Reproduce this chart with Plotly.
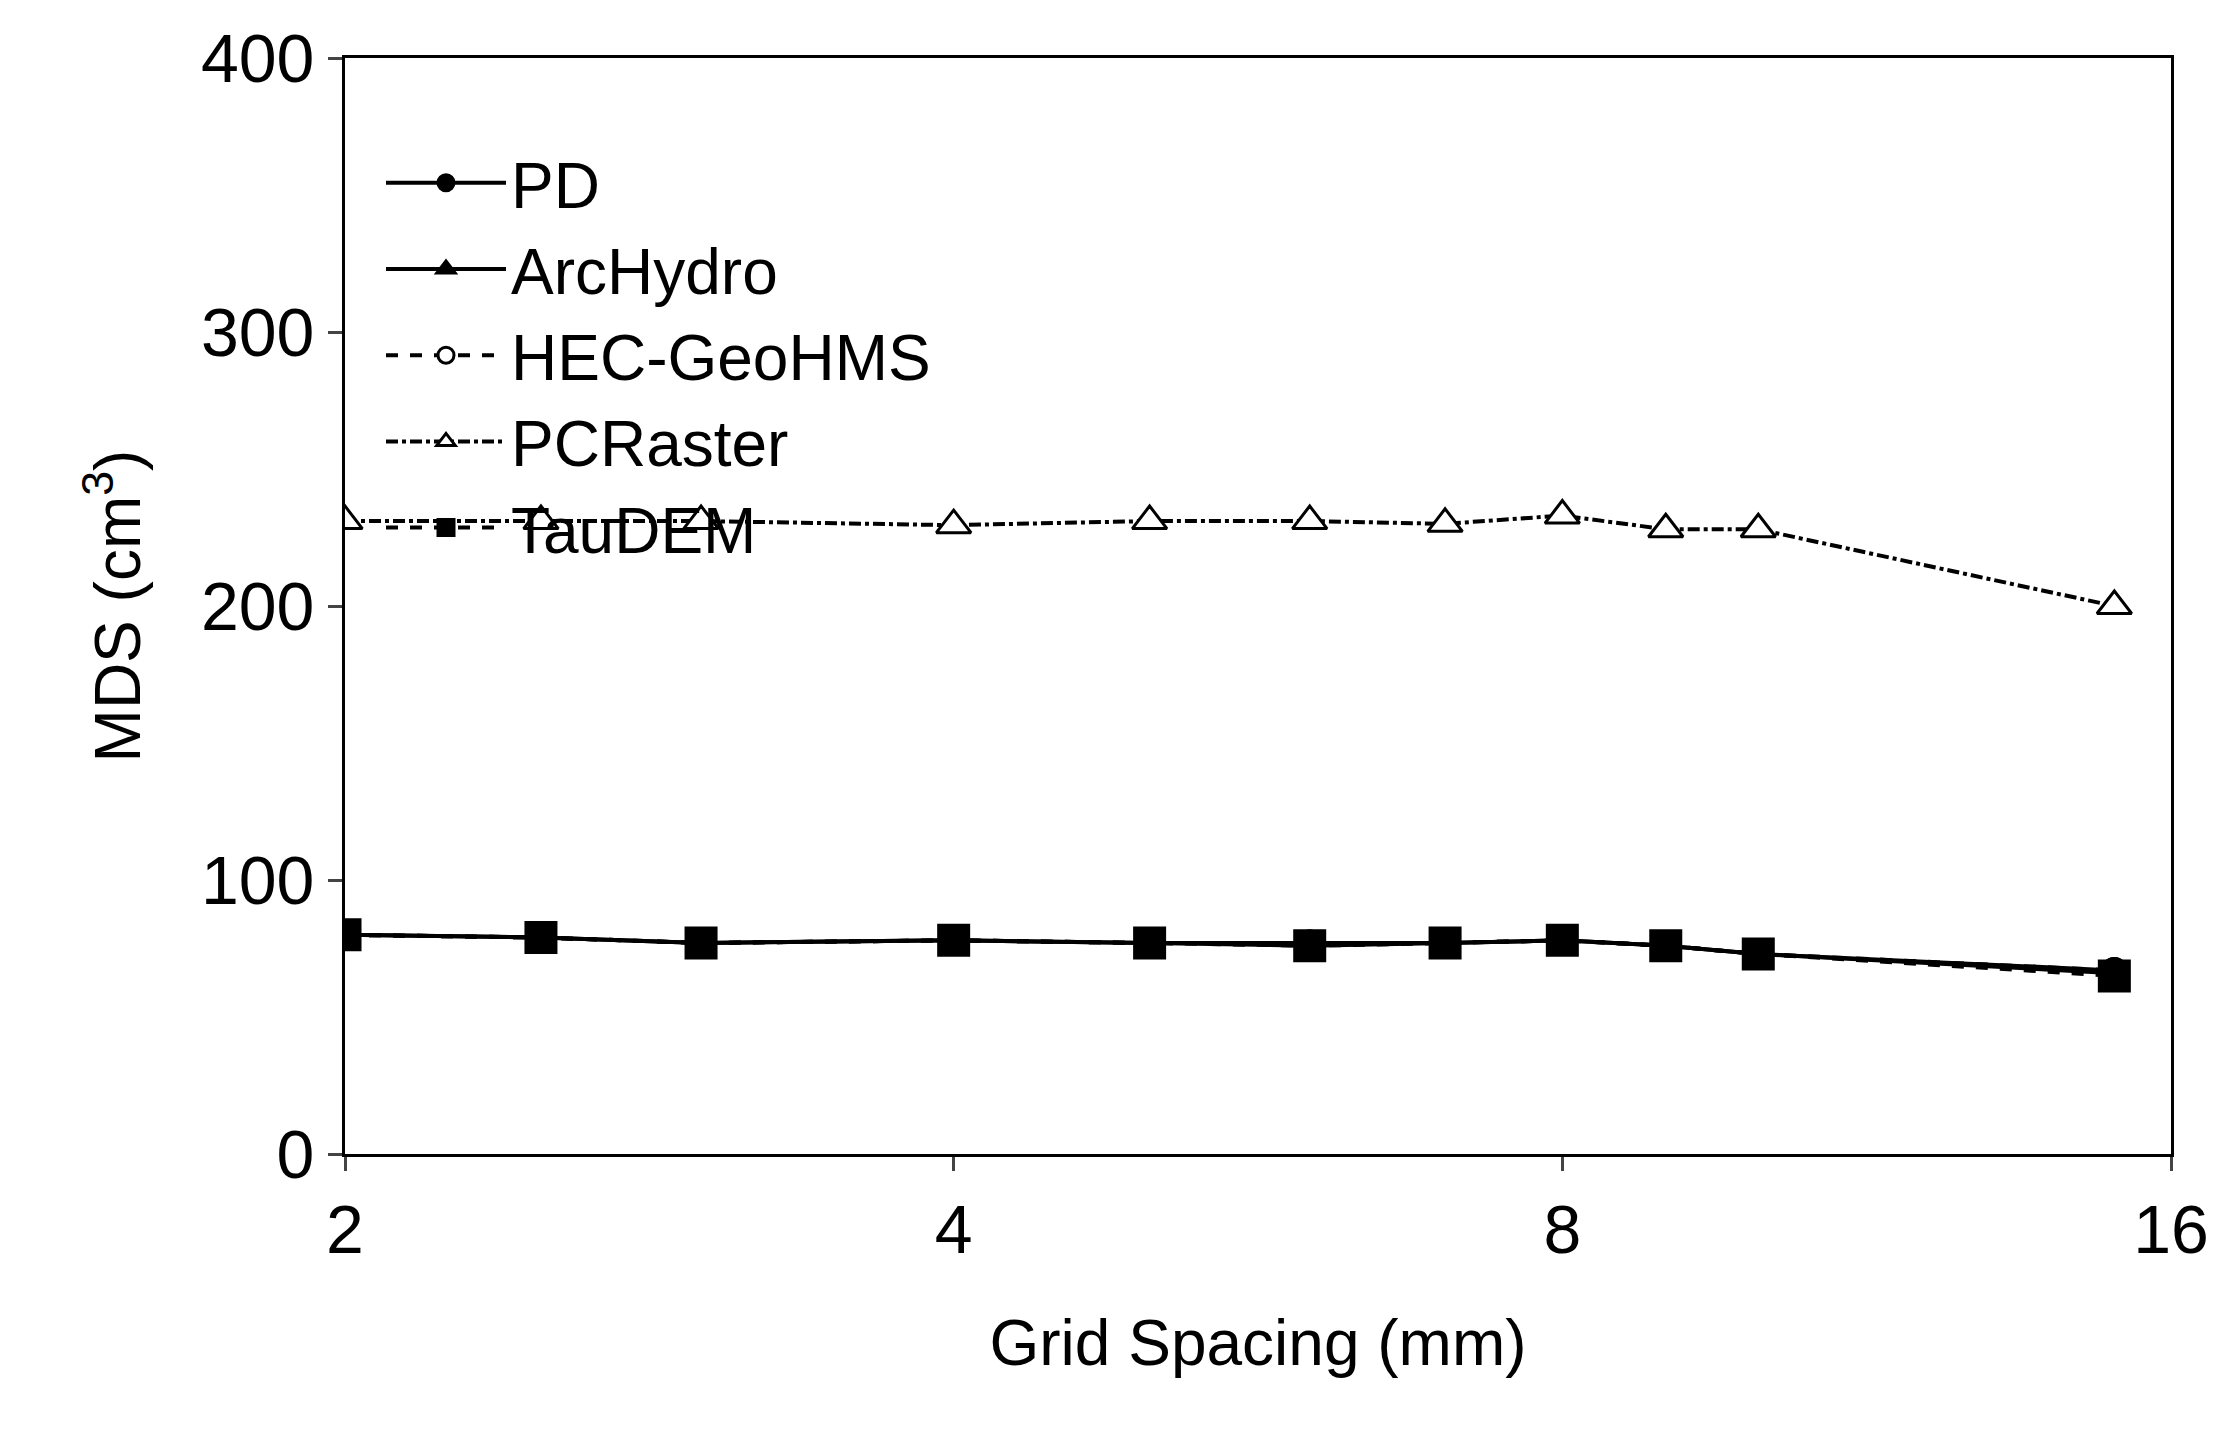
import plotly.graph_objects as go

grid = [2, 2.5, 3, 4, 5, 6, 7, 8, 9, 10, 15]
pd_v = [80, 79, 77, 78, 77, 77, 77, 78, 76, 73, 67]
arc_v = [80, 79, 77, 78, 77, 76, 77, 78, 76, 73, 66]
hec_v = [80, 79, 77, 78, 77, 77, 77, 78, 76, 73, 67]
pcr_v = [231, 231, 231, 229.5, 231, 231, 230, 233, 228, 228, 200]
tau_v = [80, 79, 77, 78, 77, 76, 77, 78, 76, 73, 65]

fig = go.Figure()
def add(name, y, dash, sym, size=24, lw=4, fill="black"):
    fig.add_trace(go.Scatter(x=grid, y=y, name=name, mode="lines+markers",
        line=dict(color="black", width=lw, dash=dash),
        marker=dict(symbol=sym, size=size, color=fill,
                    line=dict(color="black", width=3))))
add("PD", pd_v, "solid", "circle")
add("ArcHydro", arc_v, "solid", "triangle-up")
add("HEC-GeoHMS", hec_v, "dash", "circle", fill="white")
add("PCRaster", pcr_v, "dashdot", "triangle-up", size=30, fill="white")
add("TauDEM", tau_v, "dash", "square", size=30)

font = dict(family="Liberation Sans, Arial", color="black")
fig.update_layout(
    width=2215, height=1430, paper_bgcolor="white", plot_bgcolor="white",
    margin=dict(l=337, r=52, t=47, b=284),
    font=dict(**font, size=68),
    showlegend=True,
    legend=dict(orientation="h", x=0.12, y=0.93, xanchor="left", yanchor="top",
                entrywidth=780, entrywidthmode="pixels", font=dict(**font, size=64),
                bgcolor="rgba(0,0,0,0)", tracegroupgap=0, itemwidth=120),
    xaxis=dict(type="log", range=[0.30103, 1.20412], tickvals=[2, 4, 8, 16],
               ticktext=["2", "4", "8", "16"], showline=True, linecolor="black", linewidth=3,
               mirror=True, ticks="outside", ticklen=14, tickwidth=3, showgrid=False,
               title=dict(text="Grid Spacing (mm)", font=dict(**font, size=64), standoff=55)),
    yaxis=dict(range=[0, 400], tickvals=[0, 100, 200, 300, 400], showline=True,
               linecolor="black", linewidth=3, mirror=True, ticks="outside", ticklen=14,
               tickwidth=3, showgrid=False,
               title=dict(text="MDS (cm<sup>3</sup>)", font=dict(**font, size=64), standoff=40)),
)
fig.write_html("out.html")
